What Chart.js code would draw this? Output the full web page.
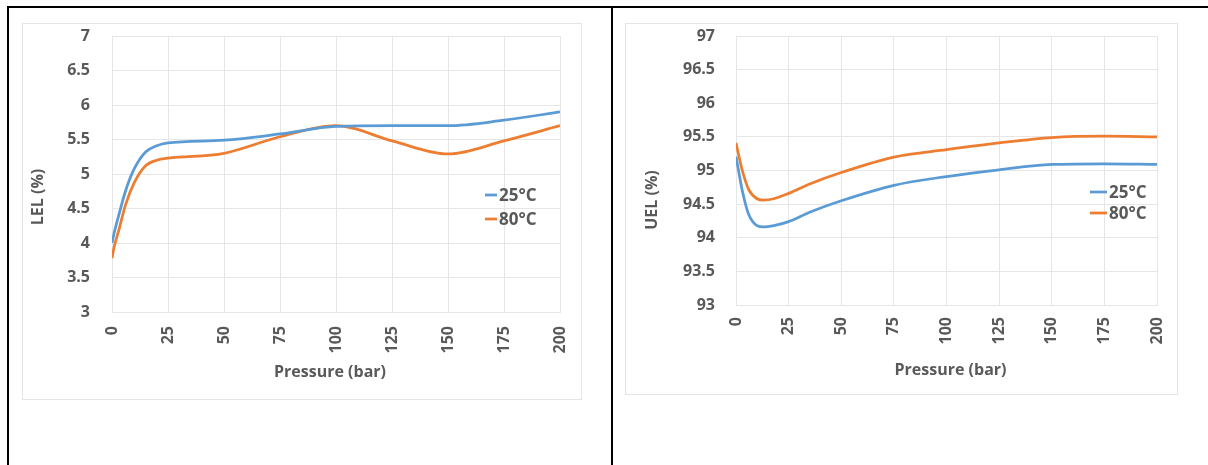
<!DOCTYPE html>
<html>
<head>
<meta charset="utf-8">
<script src="https://cdn.jsdelivr.net/npm/chart.js@4.4.1/dist/chart.umd.min.js"></script>
<style>
	body { margin: 0; background: #ffffff; width: 1208px; height: 465px; position: relative; overflow: hidden; }
	.rule { position: absolute; background: #000000; }
	.chart-box { position: absolute; border: 1px solid #e4e4e4; background: #ffffff; }
	.chart-box canvas { display: block; }
</style>
</head>
<body>
<div class="rule" style="left:7px; top:6px; width:1201px; height:2px;"></div>
<div class="rule" style="left:7px; top:6px; width:2px; height:459px;"></div>
<div class="rule" style="left:611px; top:6px; width:2px; height:459px;"></div>

<div class="chart-box" id="lel-box" style="left:22px; top:23px; width:558px; height:375px;">
	<canvas id="lel-canvas" width="558" height="375"></canvas>
</div>
<div class="chart-box" id="uel-box" style="left:625px; top:23px; width:551px; height:370px;">
	<canvas id="uel-canvas" width="551" height="370"></canvas>
</div>

<script>
// pressure (bar) sample points and flammability limits (%)
let lel_pressure = [0, 1, 3, 6, 10, 15, 20, 25, 50, 75, 100, 125, 150, 175, 200];
let lel_25c = [4.0, 4.15, 4.4, 4.75, 5.08, 5.32, 5.41, 5.45, 5.49, 5.58, 5.69, 5.70, 5.70, 5.78, 5.90];
let lel_80c = [3.78, 3.95, 4.18, 4.55, 4.88, 5.12, 5.20, 5.23, 5.30, 5.54, 5.70, 5.48, 5.29, 5.48, 5.70];

let uel_pressure = [0, 3, 6, 10, 13, 18, 25, 35, 50, 75, 100, 125, 150, 175, 200];
let uel_25c = [95.21, 94.70, 94.35, 94.18, 94.16, 94.18, 94.24, 94.38, 94.55, 94.78, 94.91, 95.01, 95.09, 95.10, 95.09];
let uel_80c = [95.41, 95.00, 94.72, 94.58, 94.56, 94.58, 94.66, 94.80, 94.97, 95.20, 95.31, 95.41, 95.49, 95.51, 95.50];

let series_labels = ['25°C', '80°C'];
let series_colors = ['#5b9bd5', '#ed7d31'];
let x_title = 'Pressure (bar)';

let text_color = '#595959';
let grid_color = '#e6e6e6';
let font_family = "'Open Sans', 'DejaVu Sans', sans-serif";

// axis titles and the legend are placed by hand, the way the spreadsheet lays them out
let decorPlugin = {
	id: 'decor',
	afterDraw: function(chart, args, opts) {
		let ctx = chart.ctx;
		let area = chart.chartArea;
		ctx.save();
		ctx.fillStyle = text_color;
		ctx.font = 'bold 16px ' + font_family;
		ctx.textAlign = 'center';
		ctx.textBaseline = 'middle';

		ctx.save();
		ctx.translate(opts.yTitleX, opts.yTitleY);
		ctx.rotate(-Math.PI / 2);
		ctx.fillText(opts.yTitle, 0, 0);
		ctx.restore();

		ctx.fillText(x_title, (area.left + area.right) / 2 + opts.xTitleShift, opts.xTitleY);

		ctx.font = 'bold 17px ' + font_family;
		ctx.textAlign = 'left';
		chart.data.datasets.forEach(function(ds, i) {
			let y = opts.legendY[i];
			ctx.strokeStyle = ds.borderColor;
			ctx.lineWidth = 2.75;
			ctx.beginPath();
			ctx.moveTo(opts.legendX, y);
			ctx.lineTo(opts.legendX + opts.legendLine, y);
			ctx.stroke();
			ctx.fillText(ds.label, opts.legendX + opts.legendLine + 2, y + 1);
		});
		ctx.restore();
	}
};

let makeDatasets = function(xs, a, b) {
	return [a, b].map(function(vals, i) {
		return {
			label: series_labels[i],
			data: xs.map(function(x, j) { return {x: x, y: vals[j]}; }),
			borderColor: series_colors[i],
			backgroundColor: series_colors[i],
			borderWidth: 2.75,
			pointRadius: 0,
			cubicInterpolationMode: 'monotone',
			fill: false
		};
	});
};

let makeChart = function(canvas_id, xs, a, b, y_min, y_max, cfg) {
	// gaps between labels and plot come from invisible tick marks, so ticks.padding stays 0
	return new Chart(document.getElementById(canvas_id).getContext('2d'), {
		type: 'line',
		data: { datasets: makeDatasets(xs, a, b) },
		plugins: [decorPlugin],
		options: {
			responsive: false,
			animation: false,
			layout: { padding: { left: 0, right: cfg.padRight, top: cfg.padTop, bottom: 0 } },
			plugins: {
				legend: { display: false },
				tooltip: { enabled: false },
				decor: cfg.decor
			},
			scales: {
				x: {
					type: 'linear',
					min: 0,
					max: 200,
					afterFit: function(scale) { scale.height = cfg.xHeight; },
					grid: { color: grid_color, drawTicks: true, tickLength: cfg.xGap, tickColor: 'rgba(0,0,0,0)' },
					border: { color: grid_color },
					ticks: {
						stepSize: 25,
						minRotation: 90,
						maxRotation: 90,
						padding: 0,
						color: text_color,
						font: { family: font_family, size: 16, weight: 'bold' },
						callback: function(v) { return v.toString(); }
					}
				},
				y: {
					min: y_min,
					max: y_max,
					afterFit: function(scale) { scale.width = cfg.yWidth; },
					grid: { color: grid_color, drawTicks: true, tickLength: cfg.yGap, tickColor: 'rgba(0,0,0,0)' },
					border: { color: grid_color },
					ticks: {
						stepSize: 0.5,
						padding: 0,
						color: text_color,
						font: { family: font_family, size: 16, weight: 'bold' },
						callback: function(v) { return v.toString(); }
					}
				}
			}
		}
	});
};

makeChart('lel-canvas', lel_pressure, lel_25c, lel_80c, 3, 7, {
	padRight: 21, padTop: 12, xHeight: 87, yWidth: 89, xGap: 14, yGap: 22,
	decor: { yTitle: 'LEL (%)', yTitleX: 15, yTitleY: 173, xTitleY: 348, xTitleShift: -6,
		legendX: 462, legendLine: 12, legendY: [171, 195] }
});

makeChart('uel-canvas', uel_pressure, uel_25c, uel_80c, 93, 97, {
	padRight: 20, padTop: 12, xHeight: 89, yWidth: 110, xGap: 12, yGap: 21,
	decor: { yTitle: 'UEL (%)', yTitleX: 26, yTitleY: 176, xTitleY: 346, xTitleShift: 4,
		legendX: 464, legendLine: 17, legendY: [168, 189] }
});
</script>
</body>
</html>
